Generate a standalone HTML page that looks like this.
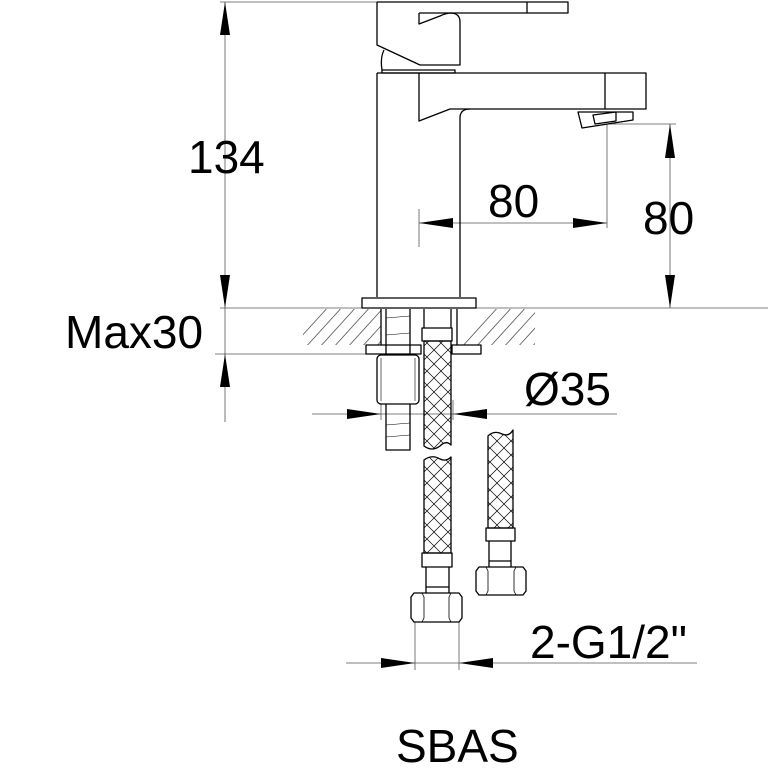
<!DOCTYPE html>
<html><head><style>html,body{margin:0;padding:0;background:#fff}svg{display:block}text{font-family:"Liberation Sans",sans-serif;fill:#000}</style></head>
<body>
<svg width="768" height="768" viewBox="0 0 768 768" xmlns="http://www.w3.org/2000/svg">
<defs>
<pattern id="br" width="14" height="14" patternUnits="userSpaceOnUse">
<path d="M0,0 L14,14 M14,0 L0,14" stroke="#000" stroke-width="0.7"/>
</pattern>
<clipPath id="hatch"><rect x="303" y="309" width="232" height="36"/></clipPath>
</defs>
<g fill="none" stroke="#555" stroke-width="0.8">
<!-- dimension/ext lines -->
<line x1="220" y1="2" x2="377" y2="2"/>
<line x1="225" y1="2" x2="225" y2="422"/>
<line x1="220" y1="308" x2="768" y2="308"/>
<line x1="215" y1="354" x2="380" y2="354"/>
<line x1="419" y1="209" x2="419" y2="247"/>
<line x1="419" y1="223" x2="607" y2="223"/>
<line x1="607" y1="124" x2="607" y2="228"/>
<line x1="607" y1="124" x2="676" y2="124"/>
<line x1="670" y1="124" x2="670" y2="308"/>
<line x1="312" y1="414" x2="617" y2="414"/>
<line x1="381" y1="400" x2="381" y2="420"/>
<line x1="453" y1="400" x2="453" y2="420"/>
<line x1="415" y1="622" x2="415" y2="670"/>
<line x1="459" y1="622" x2="459" y2="670"/>
<line x1="346" y1="663" x2="697" y2="663"/>
</g>
<g fill="#000">
<polygon points="225,2 220,35 230,35"/>
<polygon points="225,308 220,275 230,275"/>
<polygon points="225,354 220,387 230,387"/>
<polygon points="419,223 453,218 453,228"/>
<polygon points="607,223 573,218 573,228"/>
<polygon points="670,124 665,158 675,158"/>
<polygon points="670,308 665,275 675,275"/>
<polygon points="381,414 347,409 347,419"/>
<polygon points="453,414 487,409 487,419"/>
<polygon points="415,663 381,658 381,668"/>
<polygon points="459,663 493,658 493,668"/>
</g>
<!-- hatch -->
<g clip-path="url(#hatch)" stroke="#555" stroke-width="0.8">
<path d="M280,360 l50,-55 M294,360 l50,-55 M308,360 l50,-55 M322,360 l50,-55 M336,360 l50,-55 M350,360 l50,-55 M364,360 l50,-55 M450,360 l50,-55 M464,360 l50,-55 M478,360 l50,-55 M492,360 l50,-55 M506,360 l50,-55 M520,360 l50,-55 M534,360 l50,-55"/>
</g>
<rect x="381" y="309" width="76" height="36" fill="#fff"/>
<g fill="none" stroke="#000" stroke-width="1.3" stroke-linejoin="round">
<!-- handle -->
<path d="M377,2 L568,2 L568,13 L419,13"/>
<line x1="527" y1="2" x2="527" y2="13"/>
<path d="M377,2 L377,45 L420,65 L460,65 L460,22 Q460,13 450,13"/>
<path d="M419,13 L419,24 L440,16 Q446,13 452,13"/>
<path d="M384,50 Q380,58 382,70"/>
<rect x="382" y="70" width="73" height="3"/>
<!-- body -->
<path d="M377,73 L377,297"/>
<path d="M460,297 L460,118 Q460,109 470,109"/>
<path d="M377,73 L646,73 L646,109 L450,109 L419,121 L419,73"/>
<line x1="605" y1="73" x2="605" y2="109"/>
<path d="M578,112 L633,112 L633,120 L582,128 Z"/>
<path d="M593,115 L616,112 L616,121 L595,124 Z"/>
<rect x="362" y="298" width="114" height="10"/>
<!-- mounting -->
<line x1="381" y1="309" x2="381" y2="345"/>
<line x1="457" y1="309" x2="457" y2="345"/>
<rect x="366" y="345" width="55" height="9"/>
<rect x="452" y="345" width="29" height="9"/>
<path d="M386,309 L386,450 L410,450 L410,309"/>
<path d="M386,335 L410,333 M386,390 L410,388 M386,425 L410,423 M386,437 L410,435 M386,318 L410,316" stroke-width="0.6"/>
<rect x="377" y="355" width="42" height="49" rx="4" fill="#fff"/>
<line x1="381" y1="358" x2="381" y2="401" stroke-width="0.6"/>
<line x1="415" y1="358" x2="415" y2="401" stroke-width="0.6"/>
<!-- upper hose -->
<line x1="424" y1="309" x2="424" y2="328"/>
<line x1="451" y1="309" x2="451" y2="328"/>
<rect x="422" y="328" width="30" height="13"/>
<path d="M424,341 L451,341 L451,445 Q446,440 440,446 Q432,452 424,446 Z" fill="url(#br)"/>
<!-- lower hose A -->
<path d="M424,460 Q432,454 440,459 Q446,462 451,457 L451,553 L424,553 Z" fill="url(#br)"/>
<rect x="422" y="553" width="30" height="14"/>
<path d="M426,567 L426,593 M449,567 L449,593 M426,587 L449,587"/>
<path d="M414,593 L459,593 L462,597 L462,618 L459,622 L414,622 L411,618 L411,597 Z"/>
<path d="M422,593 L424,597 L424,618 L422,622 M451,593 L449,597 L449,618 L451,622" stroke-width="0.8"/>
<!-- hose B -->
<path d="M488,436 Q494,430 502,434 Q509,437 513,430 L513,528 L488,528 Z" fill="url(#br)"/>
<rect x="486" y="528" width="29" height="13"/>
<path d="M489,541 L489,567 M511,541 L511,567 M489,561 L511,561"/>
<path d="M479,567 L523,567 L526,571 L526,591 L523,595 L479,595 L476,591 L476,571 Z"/>
<path d="M486,567 L488,571 L488,591 L486,595 M516,567 L514,571 L514,591 L516,595" stroke-width="0.8"/>
</g>
<g font-size="46">
<text x="188" y="173">134</text>
<text x="488" y="217">80</text>
<text x="643" y="234">80</text>
<text x="65" y="348">Max30</text>
<text x="524" y="405">Ø35</text>
<text x="530" y="658">2-G1/2"</text>
<text x="396" y="762">SBAS</text>
</g>
</svg>
</body></html>
